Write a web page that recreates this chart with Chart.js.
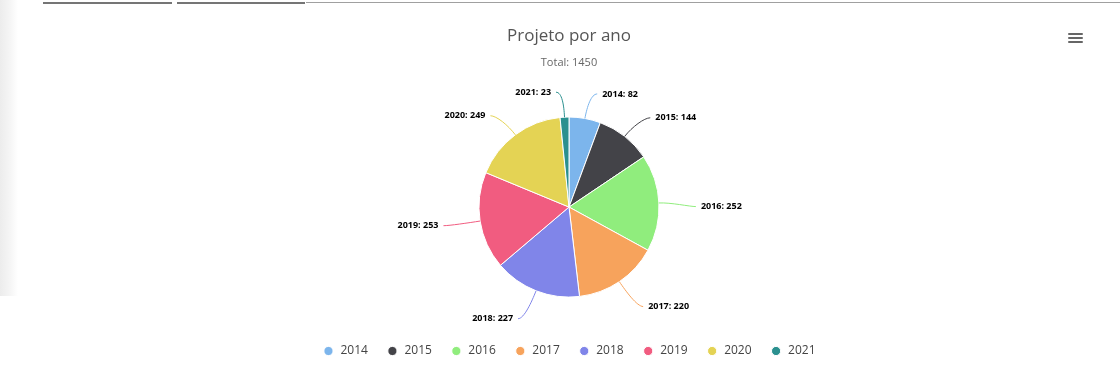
<!DOCTYPE html>
<html>
<head>
<meta charset="utf-8">
<script src="https://cdn.jsdelivr.net/npm/chart.js@4/dist/chart.umd.min.js"></script>
<style>
  html, body { margin: 0; padding: 0; background: #fff; }
  body { width: 1120px; height: 388px; position: relative; overflow: hidden; }
  .side { position: absolute; left: 0; top: 0; width: 18px; height: 296px;
          background: linear-gradient(to right, #ececec, #f6f6f6 60%, #fff); }
  .tab { position: absolute; top: 2px; height: 2px; }
  .menu div { position: absolute; left: 1068px; width: 15px; height: 2px; background: #666; border-radius: 1px; }
  #wrap { position: absolute; left: 18px; top: 0; width: 1102px; height: 388px; }
</style>
</head>
<body>
<div class="side"></div>
<div class="tab" style="left:43px;width:129px;background:#757575"></div>
<div class="tab" style="left:177px;width:128px;background:#757575"></div>
<div class="tab" style="left:306px;width:814px;background:#a0a0a0;height:1px"></div>
<div class="menu">
  <div style="top:33px"></div>
  <div style="top:37px"></div>
  <div style="top:41px"></div>
</div>
<div id="wrap"><canvas id="pie"></canvas></div>
<script>
// anos e quantidade de projetos
const years = ['2014', '2015', '2016', '2017', '2018', '2019', '2020', '2021'];
const projects = [82, 144, 252, 220, 227, 253, 249, 23];
const colors = ['#7cb5ec', '#434348', '#90ed7d', '#f7a35c', '#8085e9', '#f15c80', '#e4d354', '#2b908f'];
const chartTitle = 'Projeto por ano';
const total = projects.reduce((a, b) => a + b, 0);

// rotulos estilo highcharts com linha de ligacao
const outsideLabels = {
  id: 'outsideLabels',
  afterDatasetsDraw(chart) {
    const ctx = chart.ctx;
    const meta = chart.getDatasetMeta(0);
    ctx.save();
    ctx.font = 'bold 9px "Open Sans"';
    ctx.textBaseline = 'middle';
    meta.data.forEach((arc, i) => {
      const p = arc.getProps(['x', 'y', 'startAngle', 'endAngle', 'outerRadius'], true);
      const a = (p.startAngle + p.endAngle) / 2;
      const cos = Math.cos(a), sin = Math.sin(a);
      const r = p.outerRadius, R = r + 30;
      const ex = p.x + r * cos, ey = p.y + r * sin;
      const ax = p.x + R * cos, ay = p.y + R * sin;
      const right = cos >= 0;
      const side = right ? 1 : -1;
      const ly = ay + (sin < 0 ? 5 : 0);
      const tx = ax + side * 12;
      const endX = tx - side * 5;
      ctx.strokeStyle = colors[i];
      ctx.lineWidth = 1;
      ctx.beginPath();
      ctx.moveTo(ex, ey);
      ctx.bezierCurveTo(ex + 12 * cos, ey + 12 * sin, endX - side * 6, ly, endX, ly);
      ctx.stroke();
      ctx.fillStyle = '#000';
      ctx.textAlign = right ? 'left' : 'right';
      ctx.fillText(years[i] + ': ' + projects[i], tx, ly);
    });
    ctx.restore();
  }
};

new Chart(document.getElementById('pie'), {
  type: 'pie',
  data: {
    labels: years,
    datasets: [{
      data: projects,
      backgroundColor: colors,
      borderColor: '#fff',
      borderWidth: 1,
      hoverOffset: 0
    }]
  },
  options: {
    responsive: true,
    maintainAspectRatio: false,
    animation: false,
    radius: 90,
    layout: { padding: { bottom: 21 } },
    plugins: {
      title: {
        display: true,
        text: chartTitle,
        color: '#555',
        font: { family: 'Open Sans', size: 17, weight: 'normal' },
        padding: { top: 26, bottom: 10 }
      },
      subtitle: {
        display: true,
        text: 'Total: ' + total,
        color: '#666',
        font: { family: 'Open Sans', size: 11, weight: 'normal' },
        padding: { top: 0, bottom: 18 }
      },
      legend: {
        position: 'bottom',
        labels: {
          usePointStyle: true,
          pointStyle: 'circle',
          boxWidth: 12,
          boxHeight: 6.5,
          padding: 18.5,
          color: '#444',
          font: { family: 'Open Sans', size: 12 }
        }
      },
      tooltip: { enabled: false }
    }
  },
  plugins: [outsideLabels]
});
</script>
</body>
</html>
